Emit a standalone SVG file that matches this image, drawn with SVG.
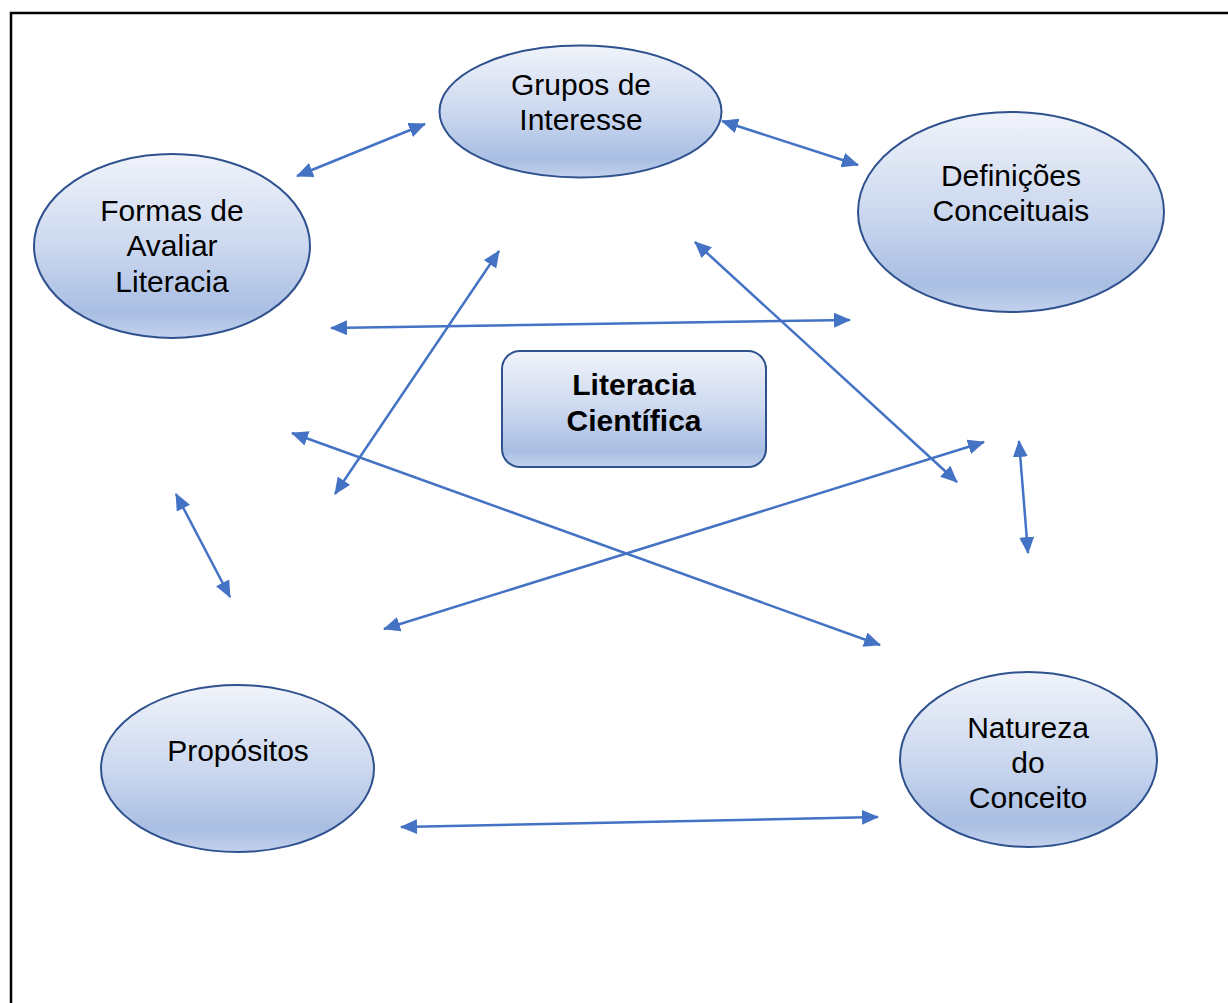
<svg xmlns="http://www.w3.org/2000/svg" width="1228" height="1003" viewBox="0 0 1228 1003">
  <style>
    .node { fill: url(#nodeFill); stroke: #2f528f; stroke-width: 2; }
    .label { font-family: "Liberation Sans", Arial, sans-serif; font-size: 30px; fill: #000; text-anchor: middle; }
    .bold { font-weight: bold; }
    .link { stroke: #4472c4; stroke-width: 2.5; fill: none; marker-start: url(#head); marker-end: url(#head); }
  </style>
  <defs>
    <linearGradient id="nodeFill" x1="0" y1="0" x2="0" y2="1">
      <stop offset="0" stop-color="#f0f3fa"/>
      <stop offset="0.5" stop-color="#ccd8ef"/>
      <stop offset="0.86" stop-color="#a9bee3"/>
      <stop offset="1" stop-color="#c3d1ec"/>
    </linearGradient>
    <marker id="head" markerUnits="userSpaceOnUse" markerWidth="17" markerHeight="15" viewBox="0 0 17 15" refX="16" refY="7.5" orient="auto-start-reverse">
      <path d="M0,0 L17,7.5 L0,15 Z" fill="#4472c4"/>
    </marker>
  </defs>

  <rect width="1228" height="1003" fill="#fff"/>
  <!-- page frame -->
  <path d="M11,1003 V13 H1228" fill="none" stroke="#000" stroke-width="2.5"/>

  <g id="connectors">
    <line class="link" x1="297" y1="176" x2="425" y2="124"/>
    <line class="link" x1="722" y1="121" x2="858" y2="165"/>
    <line class="link" x1="331" y1="328" x2="850" y2="320"/>
    <line class="link" x1="499" y1="251" x2="335" y2="494"/>
    <line class="link" x1="695" y1="242" x2="957" y2="482"/>
    <line class="link" x1="292" y1="433" x2="880" y2="645"/>
    <line class="link" x1="984" y1="442" x2="384" y2="629"/>
    <line class="link" x1="1019" y1="441" x2="1028" y2="553"/>
    <line class="link" x1="176" y1="494" x2="230" y2="597"/>
    <line class="link" x1="401" y1="827" x2="878" y2="817"/>
  </g>

  <g id="grupos">
    <ellipse class="node" cx="580.5" cy="111.5" rx="141" ry="66"/>
    <text class="label" x="581" y="95">Grupos de</text>
    <text class="label" x="581" y="130">Interesse</text>
  </g>

  <g id="definicoes">
    <ellipse class="node" cx="1011" cy="212" rx="153" ry="100"/>
    <text class="label" x="1011" y="186">Definições</text>
    <text class="label" x="1011" y="221">Conceituais</text>
  </g>

  <g id="formas">
    <ellipse class="node" cx="172" cy="246" rx="138" ry="92"/>
    <text class="label" x="172" y="221">Formas de</text>
    <text class="label" x="172" y="256">Avaliar</text>
    <text class="label" x="172" y="292">Literacia</text>
  </g>

  <g id="literacia">
    <rect class="node" x="502" y="351" width="264" height="116" rx="18" ry="18"/>
    <text class="label bold" x="634" y="395">Literacia</text>
    <text class="label bold" x="634" y="431">Científica</text>
  </g>

  <g id="propositos">
    <ellipse class="node" cx="237.5" cy="768.5" rx="136.5" ry="83.5"/>
    <text class="label" x="238" y="761">Propósitos</text>
  </g>

  <g id="natureza">
    <ellipse class="node" cx="1028.5" cy="759.5" rx="128.5" ry="87.5"/>
    <text class="label" x="1028" y="738">Natureza</text>
    <text class="label" x="1028" y="773">do</text>
    <text class="label" x="1028" y="808">Conceito</text>
  </g>
</svg>
